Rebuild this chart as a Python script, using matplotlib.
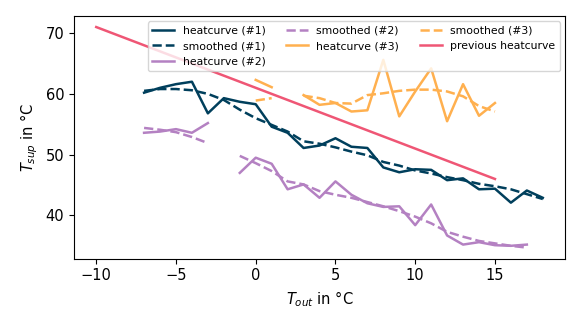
import numpy as np
import matplotlib
matplotlib.use('Agg')
import matplotlib.pyplot as plt

nan = np.nan

# heating curve 1
t_out_1 = np.arange(-7, 19)
heat_1 = [60.2, 61.0, 61.6, 62.0, 56.8, 59.3, 58.7, 58.3, 54.6, 53.6, 51.1, 51.5, 52.7,
          51.3, 51.1, 47.9, 47.1, 47.6, 47.5, 45.8, 46.1, 44.3, 44.4, 42.1, 44.1, 42.9]
smooth_1 = [60.5, 60.8, 60.8, 60.6, 60.0, 59.0, 57.4, 56.0, 54.9, 53.8, 52.2, 51.8, 51.2,
            50.5, 49.9, 48.8, 48.2, 47.4, 46.9, 46.3, 45.8, 45.2, 44.8, 44.3, 43.5, 42.7]

# heating curve 2 (gap at -2)
t_out_2 = np.arange(-7, 18)
heat_2 = [53.6, 53.8, 54.2, 53.6, 55.2, nan, 47.0, 49.5, 48.5, 44.3, 45.1, 42.9, 45.6,
          43.4, 42.0, 41.4, 41.5, 38.4, 41.8, 36.7, 35.2, 35.6, 35.1, 35.0, 35.2]
smooth_2 = [54.4, 54.1, 53.7, 52.9, 51.9, nan, 49.8, 48.6, 47.3, 45.6, 45.1, 44.0, 43.4,
            42.9, 42.2, 41.5, 40.7, 39.8, 38.7, 37.3, 36.5, 35.8, 35.4, 35.0, 34.7]

# heating curve 3 (gap at 2)
t_out_3 = np.arange(0, 16)
heat_3 = [62.3, 61.1, nan, 59.8, 58.2, 58.5, 57.1, 57.3, 65.6, 56.3, 60.4, 64.2, 55.5,
          61.6, 56.4, 58.5]
smooth_3 = [58.9, 59.3, nan, 59.7, 59.3, 58.5, 58.4, 59.8, 60.1, 60.5, 60.7, 60.7, 60.4,
            59.6, 58.0, 57.1]

# previous heating curve
t_out_prev = [-10, 15]
prev = [71.0, 46.0]

y_ticks = [40, 50, 60, 70]

c1 = '#003f5c'
c2 = '#b481c2'
c3 = '#ffb04f'
c4 = '#ef5675'
lw = 1.8

fig = plt.figure(figsize=(5.82, 3.27), dpi=100)
ax = fig.add_axes([0.127, 0.209, 0.844, 0.742])

ax.plot(t_out_1, heat_1, color=c1, lw=lw, label='heatcurve (#1)')
ax.plot(t_out_1, smooth_1, color=c1, lw=lw, ls='--', label='smoothed (#1)')
ax.plot(t_out_2, heat_2, color=c2, lw=lw, label='heatcurve (#2)')
ax.plot(t_out_2, smooth_2, color=c2, lw=lw, ls='--', label='smoothed (#2)')
ax.plot(t_out_3, heat_3, color=c3, lw=lw, label='heatcurve (#3)')
ax.plot(t_out_3, smooth_3, color=c3, lw=lw, ls='--', label='smoothed (#3)')
ax.plot(t_out_prev, prev, color=c4, lw=lw, label='previous heatcurve')

ax.set_yticks(y_ticks)
ax.tick_params(labelsize=10.5)
ax.set_xlabel('$T_{out}$ in °C', fontsize=10.5)
ax.set_ylabel('$T_{sup}$ in °C', fontsize=10.5)
ax.legend(loc='upper right', ncol=3, fontsize=7.8, columnspacing=1.9)

fig.savefig('out.png', dpi=100)
